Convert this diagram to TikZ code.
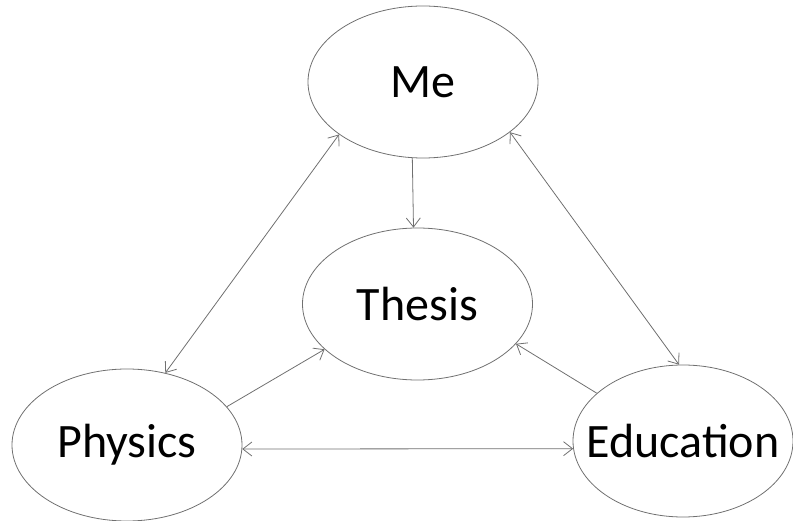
\documentclass[tikz,border=0pt]{standalone}
\usepackage{fontspec}
\setmainfont{Carlito}
\usetikzlibrary{shapes.geometric,arrows.meta}
\definecolor{linegray}{HTML}{707070}
\tikzset{
  bubble/.style={ellipse, draw=linegray, line width=0.8pt, minimum width=230pt, minimum height=152pt, inner sep=0pt, label={[font=\fontsize{48}{56}\selectfont]center:#1}},
  link/.style={draw=linegray, line width=0.8pt, -{Straight Barb[length=9pt,width=14pt]}},
  duallink/.style={draw=linegray, line width=0.8pt, {Straight Barb[length=9pt,width=14pt]}-{Straight Barb[length=9pt,width=14pt]}}
}
\begin{document}
\begin{tikzpicture}[x=1pt,y=-1pt]
\useasboundingbox (0,0) rectangle (793,521);
\node[bubble=Me] (me) at (423,82) {};
\node[bubble=Thesis] (thesis) at (417.5,304) {};
\node[bubble=Physics] (physics) at (127,445) {};
\node[bubble=Education, minimum width=220pt] (edu) at (683,441) {};
\draw[link] (me.262.5) -- (thesis.93.4);
\draw[duallink] (physics.62.8) -- (me.212);
\draw[duallink] (me.330.5) -- (edu.93.6);
\draw[link] (physics.21.4) -- (thesis.206);
\draw[link] (edu.151.7) -- (thesis.338.8);
\draw[duallink] (physics.358) -- (edu.184);
\end{tikzpicture}
\end{document}
